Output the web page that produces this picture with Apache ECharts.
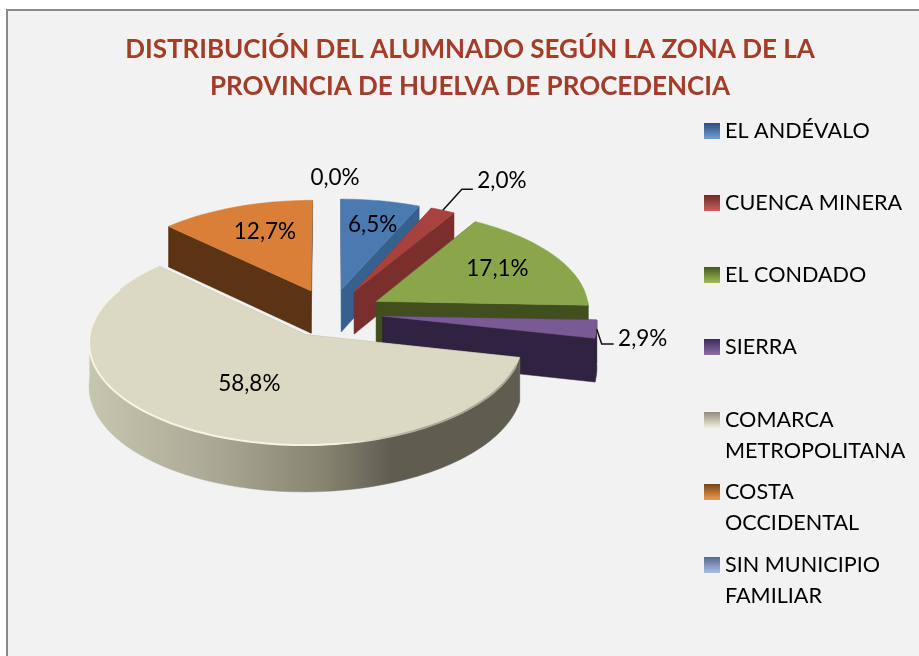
<!DOCTYPE html>
<html>
<head>
<meta charset="utf-8">
<style>html,body{margin:0;padding:0;background:#fff}#main{width:919px;height:656px}</style>
<script src="https://cdn.jsdelivr.net/npm/echarts@6/dist/echarts.min.js"></script>
</head>
<body>
<div id="main"></div>
<script>
var zonas = ['EL ANDÉVALO', 'CUENCA MINERA', 'EL CONDADO', 'SIERRA', 'COMARCA METROPOLITANA', 'COSTA OCCIDENTAL', 'SIN MUNICIPIO FAMILIAR'];
var zonasTexto = ['EL ANDÉVALO', 'CUENCA MINERA', 'EL CONDADO', 'SIERRA', '\nCOMARCA\nMETROPOLITANA', '\nCOSTA\nOCCIDENTAL', '\nSIN MUNICIPIO\nFAMILIAR'];
var porcentajes = [6.5, 2.0, 17.1, 2.9, 58.8, 12.7, 0.0];

// colores de cada porcion: cara superior, cara de corte, pared exterior
var colTop = ['#4a7ab0', '#a8423f', '#8ba64a', '#7a5a95', '#dbd9c4', '#da7f38', '#7f9bc9'];
var colSide = ['#37608f', '#7b2f2d', '#414f1e', '#2f2340', '#a9a895', '#5a3413', '#5a6f94'];
var colLegend = [['#2b4f7c', '#6f9fd8'], ['#6e2a28', '#c9605c'], ['#46591f', '#9dbd59'], ['#3f2d55', '#8d6bb0'], ['#8f8e7d', '#f0efdf'], ['#7a4315', '#f09a4c'], ['#56688c', '#a9bfe6']];
var orden = [3, 4, 5, 6, 7, 2, 1];
var legendY = [131, 203, 275, 347, 420, 492, 565];
var radioEtiqueta = [0.68, 1, 0.65, 1, 0.56, 0.65, 1.22];

// proyeccion de la tarta
var cx = 331, cy = 313, R = 213, tilt = 0.468, persp = 0.00032, grosor = 43, explota = 52;
var lblFont = '22.5px Lato, Carlito, sans-serif';

var acum = [];
porcentajes.reduce(function (s, v, i) { acum[i] = s; return s + v; }, 0);

function proj(x, y, lift) {
    var p = 1 / (1 - y * persp);
    return [cx + x * p, cy + (y * tilt + lift) * p];
}
function angs(i) {
    var a0 = acum[i] * 3.6 * Math.PI / 180;
    var a1 = (acum[i] + porcentajes[i]) * 3.6 * Math.PI / 180;
    return [a0, a1, (a0 + a1) / 2];
}
function punto(i, a, r, lift) {
    var m = angs(i)[2];
    return proj(explota * Math.sin(m) + r * Math.sin(a), -explota * Math.cos(m) - r * Math.cos(a), lift);
}
function arco(i, a0, a1, lift) {
    var pts = [], n = Math.max(2, Math.ceil((a1 - a0) / 0.03));
    for (var k = 0; k <= n; k++) pts.push(punto(i, a0 + (a1 - a0) * k / n, R, lift));
    return pts;
}
function poly(points, fill) {
    return { type: 'polygon', shape: { points: points }, style: { fill: fill, stroke: fill, lineWidth: 0.5 } };
}

function renderPorcion(params, api) {
    var i = params.seriesIndex;
    if (api.value(0) === 0) return { type: 'group', children: [] };
    var a = angs(i), kids = [];
    var centroA = punto(i, 0, 0, 0), centroB = punto(i, 0, 0, grosor);
    // caras de corte
    [a[0], a[1]].forEach(function (ang) {
        kids.push(poly([centroA, punto(i, ang, R, 0), punto(i, ang, R, grosor), centroB], colSide[i]));
    });
    // pared exterior visible
    var w0 = Math.max(a[0], Math.PI / 2), w1 = Math.min(a[1], Math.PI * 1.5);
    if (w1 > w0) {
        var sup = arco(i, w0, w1, 0), inf = arco(i, w0, w1, grosor).reverse();
        var fill = colSide[i];
        if (i === 4) {
            fill = new echarts.graphic.LinearGradient(91, 0, 520, 0, [
                { offset: 0, color: '#c6c6ae' },
                { offset: 0.3, color: '#a8a794' },
                { offset: 0.55, color: '#85836f' },
                { offset: 0.7, color: '#5f5d50' },
                { offset: 1, color: '#5f5d50' }
            ], true);
        }
        kids.push(poly(sup.concat(inf), fill));
    }
    // cara superior
    kids.push(poly([centroA].concat(arco(i, a[0], a[1], 0)), colTop[i]));
    if (i === 4) {
        var brillo = new echarts.graphic.LinearGradient(91, 0, 420, 0, [
            { offset: 0, color: '#f6f5e3' },
            { offset: 0.75, color: '#f6f5e3' },
            { offset: 1, color: '#a9a795' }
        ], true);
        kids.push({ type: 'polyline', shape: { points: arco(i, w0 + 0.08, Math.PI * 1.65, 0) }, style: { fill: 'none', stroke: brillo, lineWidth: 2 } });
    }
    return { type: 'group', children: kids };
}

function renderEtiqueta(params, api) {
    var i = params.dataIndex, a = angs(i), kids = [], x, y;
    var v = api.value(0);
    var texto = v.toFixed(1).replace('.', ',') + '%';
    var lineaStyle = { fill: 'none', stroke: '#111', lineWidth: 1.5 };
    if (v > 0 && v < 3) {
        // porciones pequenas: etiqueta fuera con linea guia
        var b = punto(i, a[2], R, 0);
        var arriba = Math.cos(a[2]) > 0;
        var e1 = arriba ? [19, -21] : [5, 15];
        var largo = arriba ? 11 : 12;
        kids.push({ type: 'polyline', shape: { points: [b, [b[0] + e1[0], b[1] + e1[1]], [b[0] + e1[0] + largo, b[1] + e1[1]]] }, style: lineaStyle });
        x = b[0] + e1[0] + largo + 29;
        y = b[1] + e1[1] + (arriba ? -9 : -5);
    } else {
        var d = punto(i, a[2], R * radioEtiqueta[i], 0);
        x = d[0] + 4;
        y = d[1] - 3;
    }
    kids.push({ type: 'text', style: { text: texto, x: x, y: y, fill: '#000', font: lblFont, align: 'center', verticalAlign: 'middle' } });
    return { type: 'group', children: kids };
}

var chart = echarts.init(document.getElementById('main'));

var series = zonas.map(function (z, i) {
    return { type: 'custom', name: z, coordinateSystem: 'none', silent: true, z: orden[i] + 2, data: [[porcentajes[i]]], itemStyle: { color: colTop[i] }, renderItem: renderPorcion };
});
series.push({ type: 'custom', name: 'etiquetas', coordinateSystem: 'none', silent: true, z: 20, data: porcentajes.map(function (v) { return [v]; }), renderItem: renderEtiqueta });

var option = {
    backgroundColor: '#fff',
    animation: false,
    title: {
        text: 'DISTRIBUCIÓN DEL ALUMNADO SEGÚN LA ZONA DE LA\nPROVINCIA DE HUELVA DE PROCEDENCIA',
        left: 470, top: 31, textAlign: 'center', padding: 0,
        textStyle: { fontFamily: 'Lato', fontWeight: 'bold', fontSize: 26, lineHeight: 37, color: '#a33c28' }
    },
    graphic: [{ type: 'rect', z: -10, silent: true, shape: { x: 7, y: 10, width: 1000, height: 1000 }, style: { fill: '#f2f2f2', stroke: '#8a8a8a', lineWidth: 2 } }],
    legend: zonas.map(function (z, i) {
        var lineas = zonasTexto[i].split('\n').length;
        return {
            data: [{ name: z, icon: 'rect', itemStyle: { color: new echarts.graphic.LinearGradient(0, 0, 0, 1, [{ offset: 0, color: colLegend[i][0] }, { offset: 1, color: colLegend[i][1] }]) } }],
            left: 704, top: legendY[i] - lineas * 15.5, padding: 0, itemWidth: 16, itemHeight: 16, selectedMode: false,
            formatter: function () { return zonasTexto[i]; },
            textStyle: { fontFamily: 'Lato', fontSize: 21.6, lineHeight: 31, color: '#000' }
        };
    }),
    series: series
};
chart.setOption(option);
</script>
</body>
</html>
